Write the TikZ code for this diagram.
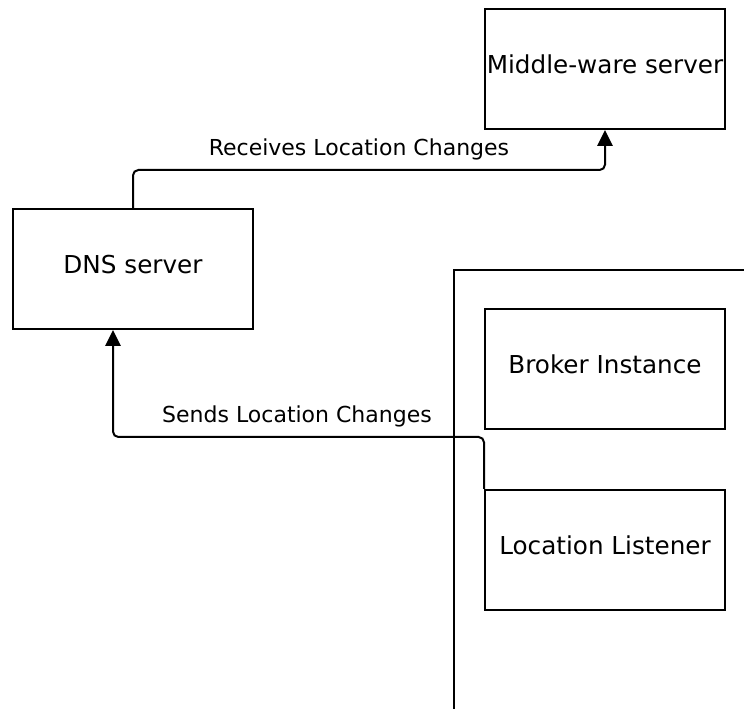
\documentclass[tikz,border=0pt]{standalone}
\usepackage{fontspec}
\setmainfont{DejaVu Sans}
\usetikzlibrary{arrows.meta}
\begin{document}
\begin{tikzpicture}[x=0.75pt,y=-0.75pt,
  box/.style={draw, line width=1.5pt, minimum width=180pt, minimum height=90pt,
    inner sep=0pt, text depth=7pt, font=\fontsize{18.5}{22}\selectfont},
  conn/.style={draw, line width=1.5pt, rounded corners=4pt,
    -{Triangle[length=12pt,width=11.5pt]}},
  lbl/.style={font=\fontsize{16.5}{19}\selectfont, inner sep=0pt}
]
\useasboundingbox (0,0) rectangle (744,709);

% servers and the broker components
\node[box] (mw)  at (605,69)  {Middle-ware server};
\node[box] (dns) at (133,269) {DNS server};
\node[box] (bi)  at (605,369) {Broker Instance};
\node[box] (ll)  at (605,550) {Location Listener};

% broker host outline (open to the right and bottom)
\coordinate (hostTop) at (744,270);
\coordinate (hostCorner) at (454,270);
\coordinate (hostBottom) at (454,709);
\draw[line width=1.5pt] (hostBottom) -- (hostCorner) -- (hostTop);

% DNS server -> middle-ware server
\coordinate (up1) at (133,170);
\draw[conn] (dns.north) -- (up1) -| (mw.south);
\node[lbl] (l1) at (359,149) {Receives Location Changes};

% location listener -> DNS server
\coordinate (turn) at (0,437);
\draw[conn] (ll.north west) -- (ll.north west |- turn) -| ([xshift=-15pt]dns.south);
\node[lbl] (l2) at (297,416) {Sends Location Changes};
\end{tikzpicture}
\end{document}
